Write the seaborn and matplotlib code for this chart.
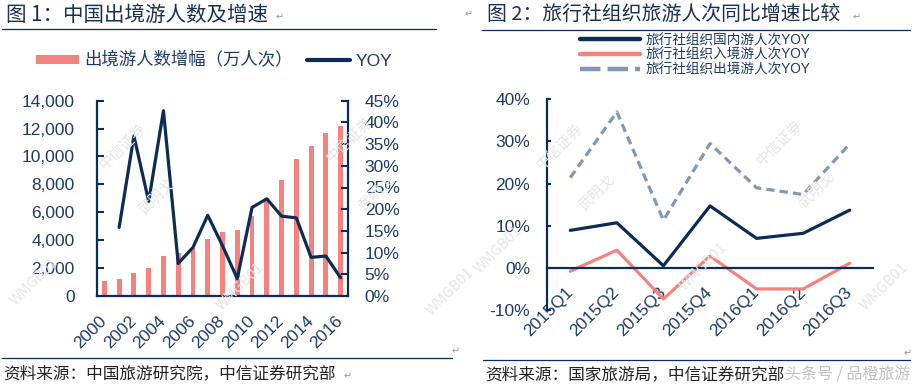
import numpy as np
import pandas as pd
import matplotlib
matplotlib.use("Agg")
import matplotlib.pyplot as plt
import seaborn as sns
from matplotlib.lines import Line2D
from matplotlib.patches import Patch
from matplotlib.ticker import FuncFormatter, MultipleLocator

# chart 1: outbound tourists (10k person-trips) and YOY growth
years = [str(y) for y in range(2000, 2017)]
outbound = [1047, 1213, 1660, 2022, 2885, 3103, 3452, 4095, 4584,
            4766, 5739, 7025, 8318, 9819, 10728, 11689, 12200]
outbound_yoy = [np.nan, 15.8, 36.9, 21.8, 42.7, 7.5, 11.2, 18.6, 11.6,
                4.0, 20.4, 22.4, 18.4, 18.0, 8.9, 9.2, 4.2]

# chart 2: travel agency organised trips, YOY
quarters = ["2015Q1", "2015Q2", "2015Q3", "2015Q4", "2016Q1", "2016Q2", "2016Q3"]
domestic_yoy = [8.9, 10.7, 0.5, 14.7, 7.0, 8.2, 13.7]
inbound_yoy = [-0.8, 4.2, -7.4, 2.8, -5.0, -5.0, 1.1]
outbound_ag_yoy = [21.4, 37.0, 11.3, 29.5, 19.0, 17.4, 29.4]

series_names = ["旅行社组织国内游人次YOY", "旅行社组织入境游人次YOY", "旅行社组织出境游人次YOY"]

NAVY = "#0c2c56"
TEXT = "#1f3a66"
PINK = "#f4827e"
GRAY = "#8497b0"
WM = "#e6e6e6"

W, H = 913, 388


def box(x0, y0, x1, y1):
    return [x0 / W, 1 - y1 / H, (x1 - x0) / W, (y1 - y0) / H]


def fx(x):
    return x / W


def fy(y):
    return 1 - y / H


def main():
    sns.set_theme(style="white")
    plt.rcParams['font.family'] = ['Liberation Sans', 'Noto Sans CJK SC', 'DejaVu Sans']
    cjk = ['Noto Sans CJK SC', 'DejaVu Sans']

    fig = plt.figure(figsize=(9.13, 3.88), dpi=100)
    fig.patch.set_facecolor("white")

    # watermarks (drawn first, under everything)
    marks = [("中信证券", 123, 147), ("武明戈", 157, 197), ("中信证券", 350, 140), ("武明戈", 377, 193),
             ("WMGB01", 34, 282), ("WMGB01", 240, 287), ("WMGB01", 450, 292),
             ("中信证券", 560, 147), ("武明戈", 597, 193), ("中信证券", 780, 143), ("武明戈", 817, 190),
             ("WMGB01", 498, 250), ("WMGB01", 703, 267), ("WMGB01", 884, 287)]
    for txt, x, y in marks:
        fig.text(fx(x), fy(y), txt, rotation=45, ha='center', va='center', fontsize=10.5,
                 color=WM, family=cjk, zorder=0)

    # ---------- chart 1 ----------
    ax1 = fig.add_axes(box(97, 100.7, 348, 296))
    ax1.patch.set_alpha(0)
    df1 = pd.DataFrame({"year": years, "count": outbound, "yoy": outbound_yoy})
    sns.barplot(data=df1, x="year", y="count", color=PINK, saturation=1, width=0.33,
                linewidth=0, ax=ax1)
    ax1.set_ylim(0, 14000)
    ax1.yaxis.set_major_locator(MultipleLocator(2000))
    ax1.yaxis.set_major_formatter(FuncFormatter(lambda v, p: f"{int(v):,}"))
    ax1.set_xlabel("")
    ax1.set_ylabel("")

    ax2 = ax1.twinx()
    sns.lineplot(x=df1.index, y=df1["yoy"], color=NAVY, linewidth=2.3, ax=ax2)
    ax2.set_ylim(0, 45)
    ax2.yaxis.set_major_locator(MultipleLocator(5))
    ax2.yaxis.set_major_formatter(FuncFormatter(lambda v, p: f"{v:.0f}%"))
    ax2.set_ylabel("")

    ax1.set_xlim(-0.5, len(years) - 0.5)
    ax1.set_xticks(range(0, len(years), 2))
    ax1.set_xticklabels(years[::2], rotation=45, ha='right', va='center', rotation_mode='anchor')

    for a in (ax1, ax2):
        for s in a.spines.values():
            s.set_visible(False)
    for s in ("left", "bottom"):
        ax1.spines[s].set_visible(True)
        ax1.spines[s].set_color(NAVY)
        ax1.spines[s].set_linewidth(1.6)
    ax2.spines["right"].set_visible(True)
    ax2.spines["right"].set_color(NAVY)
    ax2.spines["right"].set_linewidth(1.6)

    ax1.tick_params(axis='y', left=True, direction='in', length=5, width=1.5, color=NAVY,
                    pad=16, labelsize=12.5, labelcolor=TEXT)
    ax1.tick_params(axis='x', bottom=False, pad=10, labelsize=12.5, labelcolor=TEXT)
    ax2.tick_params(axis='y', right=True, direction='in', length=5, width=1.5, color=NAVY,
                    pad=12, labelsize=12.5, labelcolor=TEXT)

    leg1 = [Patch(facecolor=PINK, edgecolor='none', label="出境游人数增幅（万人次）"),
            Line2D([], [], color=NAVY, lw=3, label="YOY")]
    fig.legend(handles=leg1, ncol=2, loc='center', bbox_to_anchor=(fx(214), fy(60)),
               frameon=False, fontsize=12.5, handlelength=2.5, handleheight=0.4,
               handletextpad=0.3, columnspacing=0.8, labelcolor=TEXT)

    # ---------- chart 2 ----------
    ax3 = fig.add_axes(box(547, 99.3, 873, 310))
    ax3.patch.set_alpha(0)
    sns.lineplot(x=quarters, y=outbound_ag_yoy, color=GRAY, linewidth=2.3, ax=ax3)
    ax3.lines[-1].set_dashes((2.6, 1.6))
    sns.lineplot(x=quarters, y=domestic_yoy, color=NAVY, linewidth=2.3, ax=ax3)
    sns.lineplot(x=quarters, y=inbound_yoy, color=PINK, linewidth=2.3, ax=ax3)

    ax3.set_ylim(-10, 40)
    ax3.set_xlim(-0.5, len(quarters) - 0.5)
    ax3.yaxis.set_major_locator(MultipleLocator(10))
    ax3.yaxis.set_major_formatter(FuncFormatter(lambda v, p: f"{v:.0f}%"))
    for s in ax3.spines.values():
        s.set_visible(False)
    for s in ("left", "bottom"):
        ax3.spines[s].set_visible(True)
        ax3.spines[s].set_color(NAVY)
        ax3.spines[s].set_linewidth(1.6)
    ax3.spines["bottom"].set_position(("data", 0))
    ax3.set_xticks(range(len(quarters)))
    ax3.set_xticklabels(quarters, rotation=45, ha='right', va='center', rotation_mode='anchor')
    ax3.tick_params(axis='y', left=True, direction='in', length=3, width=1.5, color=NAVY,
                    pad=12, labelsize=12.5, labelcolor=TEXT)
    ax3.tick_params(axis='x', bottom=False, pad=10, labelsize=12.5, labelcolor=TEXT)

    leg2 = [Line2D([], [], color=NAVY, lw=3.2, label=series_names[0]),
            Line2D([], [], color=PINK, lw=3.2, label=series_names[1]),
            Line2D([], [], color=GRAY, lw=3.2, dashes=(4.6, 1.6), label=series_names[2])]
    fig.legend(handles=leg2, loc='upper left', bbox_to_anchor=(fx(580), fy(33)),
               frameon=False, fontsize=9.8, handlelength=4.4, handletextpad=0.4,
               labelspacing=0.05, borderpad=0, borderaxespad=0, labelcolor=TEXT)

    # ---------- titles, rules, sources ----------
    fig.text(fx(6), fy(15), "图 1：中国出境游人数及增速", fontsize=14.8, color="#1b2f50",
             va='center', ha='left', family=cjk)
    fig.text(fx(487), fy(15), "图 2：旅行社组织旅游人次同比增速比较", fontsize=14.3, color="#1b2f50",
             va='center', ha='left', family=cjk)
    fig.text(fx(276), fy(17), "↵", fontsize=7, color="#999999", va='center', family=['DejaVu Sans'])
    fig.text(fx(853), fy(17), "↵", fontsize=7, color="#999999", va='center', family=['DejaVu Sans'])
    fig.text(fx(465), fy(14), "↵", fontsize=7, color="#999999", va='center', family=['DejaVu Sans'])

    for x0, x1, y in [(2, 436, 28.5), (482, 910, 29.5), (2, 452, 358), (483, 910, 360)]:
        fig.add_artist(Line2D([fx(x0), fx(x1)], [fy(y), fy(y)], color=NAVY, lw=0.9))
    fig.text(fx(452), fy(351), "↵", fontsize=7, color="#999999", va='center', family=['DejaVu Sans'])
    fig.text(fx(904), fy(353), "↵", fontsize=7, color="#999999", va='center', family=['DejaVu Sans'])

    fig.text(fx(3), fy(374), "资料来源：中国旅游研究院，中信证券研究部", fontsize=12, color="#222222",
             va='center', ha='left', family=cjk)
    fig.text(fx(485), fy(375), "资料来源：国家旅游局，中信证券研究部", fontsize=12, color="#222222",
             va='center', ha='left', family=cjk)
    fig.text(fx(344), fy(376), "↵", fontsize=7, color="#999999", va='center', family=['DejaVu Sans'])
    fig.text(fx(910), fy(375), "头条号 / 品橙旅游", fontsize=11.5, color="#bbbbbb",
             va='center', ha='right', family=cjk, alpha=0.9)

    fig.savefig("out.png", dpi=100, facecolor="white")


if __name__ == '__main__':
    main()
